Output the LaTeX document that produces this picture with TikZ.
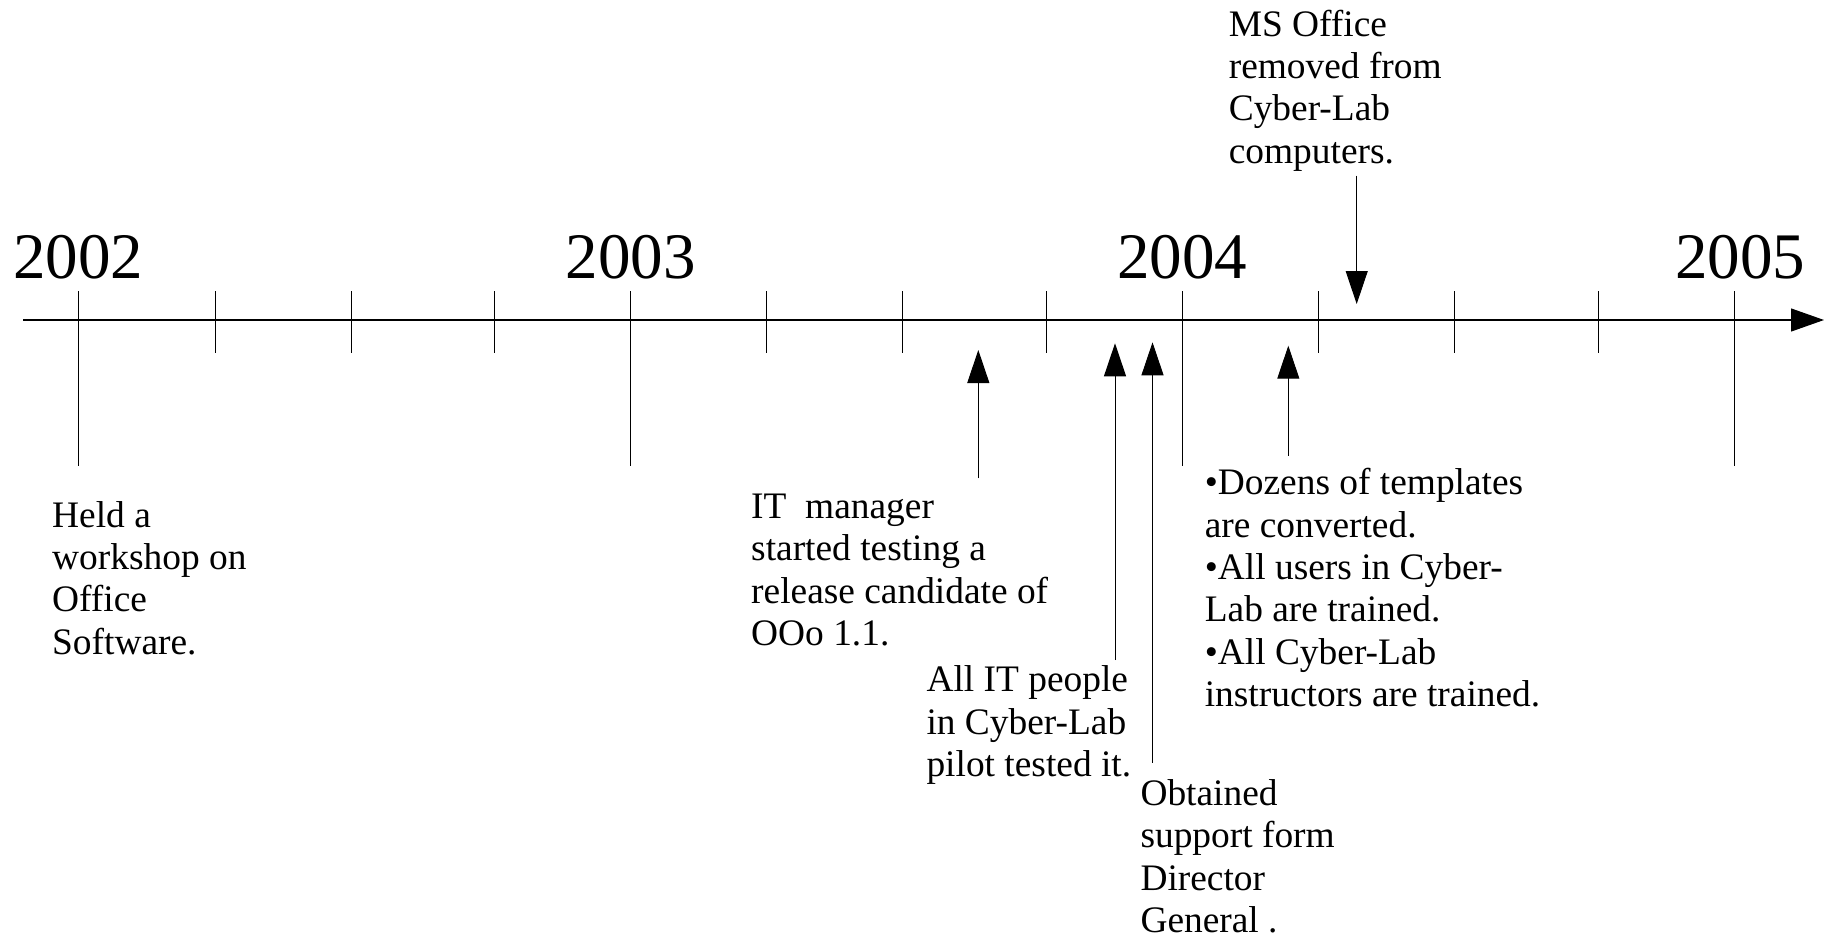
\documentclass[tikz,border=0pt]{standalone}
\usepackage{fontspec}
\setmainfont{Liberation Serif}
\usetikzlibrary{arrows.meta}

\tikzset{
    event/.style={anchor=base west, align=left, inner sep=0pt, font=\fontsize{18.7}{21.2}\selectfont},
    yearlabel/.style={anchor=base, inner sep=0pt, font=\fontsize{32.5}{38}\selectfont},
    pointer/.style={-{Triangle[length=16.5pt, width=11pt]}}
}

\begin{document}
\begin{tikzpicture}[x=0.5pt, y=-0.5pt, line width=0.5pt]
    \useasboundingbox (0,0) rectangle (1831,937);

    % Draw the time axis
    \coordinate (axisstart) at (23,320);
    \coordinate (axisend) at (1824,320);
    \draw[-{Triangle[length=16.5pt, width=11.5pt]}, line width=0.6pt] (axisstart) -- (axisend);

    % Year ticks and labels
    \foreach \yr/\x/\lx in {2002/78/78, 2003/630.5/630.5, 2004/1182.3/1182.3, 2005/1734/1740} {
        \draw (\x,291) -- (\x,466);
        \node[yearlabel] (y\yr) at (\lx,278) {\yr};
    }

    % Quarter ticks
    \foreach \x in {215, 351, 494, 766, 902.3, 1046, 1318, 1454, 1598}
        \draw (\x,291) -- (\x,353);

    % Events below the axis (placed by the baseline of their last line)
    \node[event] (workshop) at (51.7,654.3) {Held a\\workshop on\\Office\\Software.};
    \node[event] (manager) at (750.7,645.7) {IT\ \ manager\\started testing a\\release candidate of\\OOo 1.1.};
    \node[event] (pilot) at (926,776.7) {All IT people\\in Cyber-Lab\\pilot tested it.};
    \node[event] (support) at (1140,932.7) {Obtained\\support form\\Director\\General .};
    \node[event] (training) at (1204.3,706.7) {\textbullet Dozens of templates\\are converted.\\\textbullet All users in Cyber-\\Lab are trained.\\\textbullet All Cyber-Lab\\instructors are trained.};

    % Event above the axis
    \node[event] (removal) at (1228.3,163.3) {MS Office\\removed from\\Cyber-Lab\\computers.};

    % Arrows pointing at the axis
    \coordinate (managertail) at (978.3,478.3);
    \coordinate (managertip) at (978.3,350);
    \draw[pointer] (managertail) -- (managertip);

    \coordinate (pilottail) at (1115,660);
    \coordinate (pilottip) at (1115,343.3);
    \draw[pointer] (pilottail) -- (pilottip);

    \coordinate (supporttail) at (1152.5,762.7);
    \coordinate (supporttip) at (1152.5,342.3);
    \draw[pointer] (supporttail) -- (supporttip);

    \coordinate (trainingtail) at (1288.3,455.7);
    \coordinate (trainingtip) at (1288.3,345.7);
    \draw[pointer] (trainingtail) -- (trainingtip);

    \coordinate (removaltail) at (1356.7,175.7);
    \coordinate (removaltip) at (1356.7,304);
    \draw[pointer] (removaltail) -- (removaltip);
\end{tikzpicture}
\end{document}
